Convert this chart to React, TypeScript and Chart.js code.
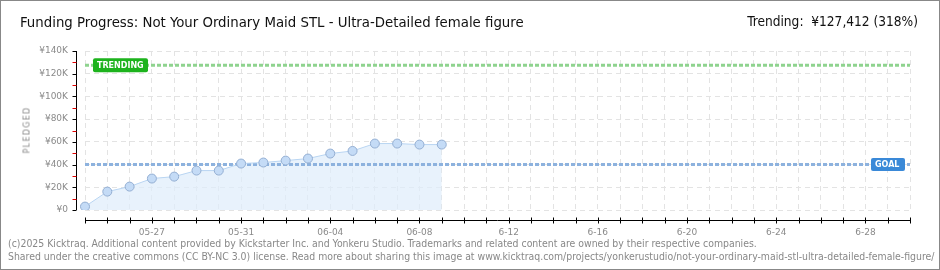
import React, { useEffect, useRef } from "react";
import { Chart, registerables } from "chart.js";

Chart.register(...registerables);

const TITLE = "Funding Progress: Not Your Ordinary Maid STL - Ultra-Detailed female figure";
const TRENDING_TEXT = "Trending:  ¥127,412 (318%)";
const FOOTER_1 = "(c)2025 Kicktraq. Additional content provided by Kickstarter Inc. and Yonkeru Studio. Trademarks and related content are owned by their respective companies.";
const FOOTER_2 = "Shared under the creative commons (CC BY-NC 3.0) license. Read more about sharing this image at www.kicktraq.com/projects/yonkerustudio/not-your-ordinary-maid-stl-ultra-detailed-female-figure/";

const DATES = [
  "05-24", "05-25", "05-26", "05-27", "05-28", "05-29", "05-30", "05-31",
  "06-01", "06-02", "06-03", "06-04", "06-05", "06-06", "06-07", "06-08",
  "06-09", "06-10", "06-11", "06-12", "06-13", "06-14", "06-15", "06-16",
  "06-17", "06-18", "06-19", "06-20", "06-21", "06-22", "06-23", "06-24",
  "06-25", "06-26", "06-27", "06-28", "06-29", "06-30",
];
const X_TICK_LABELS = ["05-27", "05-31", "06-04", "06-08", "6-12", "6-16", "6-20", "6-24", "6-28"];
const PLEDGED = [
  3000, 16200, 20600, 27700, 29400, 34700, 34700, 40900, 41800, 43500,
  45300, 49700, 52000, 58500, 58500, 57600, 57600,
];
const GOAL = 40000;
const TRENDING = 127412;
const Y_MAX = 140000;
const Y_STEP = 20000;

const NARROW = "'Liberation Sans Narrow', 'DejaVu Sans Condensed', sans-serif";

const axesPlugin = {
  id: "kickAxes",
  afterDraw(chart: any) {
    const { ctx, chartArea } = chart;
    const xs = chart.scales.x;
    const ys = chart.scales.y;
    ctx.save();
    // y axis
    const ax = Math.round(chartArea.left - 9) + 0.5;
    ctx.strokeStyle = "#000";
    ctx.lineWidth = 1;
    ctx.beginPath();
    ctx.moveTo(ax, ys.getPixelForValue(Y_MAX));
    ctx.lineTo(ax, ys.getPixelForValue(0));
    ctx.stroke();
    for (let v = 0; v <= Y_MAX; v += Y_STEP / 2) {
      const y = Math.round(ys.getPixelForValue(v)) + 0.5;
      ctx.strokeStyle = v % Y_STEP === 0 ? "#000" : "#e00000";
      ctx.beginPath();
      ctx.moveTo(ax - 4, y);
      ctx.lineTo(ax, y);
      ctx.stroke();
    }
    // x axis
    const ay = Math.round(chartArea.bottom + 10) + 0.5;
    ctx.strokeStyle = "#000";
    ctx.beginPath();
    ctx.moveTo(xs.getPixelForValue(0), ay);
    ctx.lineTo(xs.getPixelForValue(DATES.length - 1), ay);
    ctx.stroke();
    for (let i = 0; i < DATES.length; i++) {
      const x = Math.round(xs.getPixelForValue(i)) + 0.5;
      ctx.beginPath();
      ctx.moveTo(x, ay - 3);
      ctx.lineTo(x, ay + 3);
      ctx.stroke();
    }
    // label boxes
    const drawBox = (text: string, x: number, yc: number, w: number, h: number, color: string) => {
      ctx.fillStyle = color;
      ctx.beginPath();
      const r = 2;
      ctx.moveTo(x + r, yc - h / 2);
      ctx.lineTo(x + w - r, yc - h / 2);
      ctx.quadraticCurveTo(x + w, yc - h / 2, x + w, yc - h / 2 + r);
      ctx.lineTo(x + w, yc + h / 2 - r);
      ctx.quadraticCurveTo(x + w, yc + h / 2, x + w - r, yc + h / 2);
      ctx.lineTo(x + r, yc + h / 2);
      ctx.quadraticCurveTo(x, yc + h / 2, x, yc + h / 2 - r);
      ctx.lineTo(x, yc - h / 2 + r);
      ctx.quadraticCurveTo(x, yc - h / 2, x + r, yc - h / 2);
      ctx.fill();
      ctx.fillStyle = "#fff";
      ctx.font = "bold 8px 'DejaVu Sans'";
      ctx.textBaseline = "middle";
      ctx.textAlign = "left";
      ctx.fillText(text, x + 4, yc + 0.5);
    };
    const ty = ys.getPixelForValue(TRENDING);
    drawBox("TRENDING", chartArea.left + 8, ty, 55, 14, "#1db31d");
    const gy = ys.getPixelForValue(GOAL);
    drawBox("GOAL", chartArea.right - 39, gy, 34, 13, "#3a89d8");
    ctx.restore();
  },
};

export default function App() {
  const ref = useRef<HTMLCanvasElement>(null);
  useEffect(() => {
    document.body.style.margin = "0";
    const canvas = ref.current!;
    const chart = new Chart(canvas, {
      type: "line",
      data: {
        labels: DATES,
        datasets: [
          {
            data: PLEDGED,
            borderColor: "#b9d5f2",
            borderWidth: 1,
            backgroundColor: "rgba(222,236,251,0.7)",
            fill: "origin",
            tension: 0,
            pointRadius: 4.5,
            pointBackgroundColor: "#c4dbf6",
            pointBorderColor: "#93aed2",
            pointBorderWidth: 1,
          },
          {
            data: DATES.map(() => GOAL),
            borderColor: "#8db2de",
            borderWidth: 3,
            borderDash: [4, 2],
            pointRadius: 0,
            fill: false,
          },
          {
            data: DATES.map(() => TRENDING),
            borderColor: "#8fd38f",
            borderWidth: 3,
            borderDash: [4, 2],
            pointRadius: 0,
            fill: false,
          },
        ],
      },
      options: {
        animation: false,
        responsive: false,
        devicePixelRatio: 1,
        layout: { padding: { left: 0, right: 30, top: 51, bottom: 30 } },
        plugins: {
          legend: { display: false },
          tooltip: { enabled: false },
          filler: { drawTime: "beforeDatasetsDraw" },
        } as any,
        scales: {
          x: {
            type: "category",
            offset: false,
            grid: { color: "#e3e3e3", lineWidth: 1, drawTicks: false },
            border: { display: false, dash: [5, 4] },
            ticks: {
              autoSkip: false,
              maxRotation: 0,
              padding: 17,
              color: "#8a8a8a",
              font: { family: "DejaVu Sans", size: 9 },
              callback: (_v: any, i: number) => ((i - 3) % 4 === 0 && i >= 3 ? X_TICK_LABELS[(i - 3) / 4] : ""),
            },
            afterFit: (s: any) => {
              s.height = 30;
            },
          },
          y: {
            min: 0,
            max: Y_MAX,
            grid: { color: "#e3e3e3", lineWidth: 1, drawTicks: false },
            border: { display: false, dash: [5, 4] },
            ticks: {
              stepSize: Y_STEP,
              padding: 17,
              color: "#8a8a8a",
              font: { family: "DejaVu Sans", size: 9 },
              callback: (v: any) => (v === 0 ? "¥0" : "¥" + v / 1000 + "K"),
            },
            afterFit: (s: any) => {
              s.width = 85;
            },
          },
        },
      },
      plugins: [axesPlugin],
    });
    return () => chart.destroy();
  }, []);

  return (
    <div
      style={{
        position: "relative",
        width: 940,
        height: 270,
        boxSizing: "border-box",
        border: "1px solid #888",
        background: "#fff",
        overflow: "hidden",
        fontFamily: NARROW,
      }}
    >
      <canvas ref={ref} width={940} height={270} style={{ position: "absolute", left: -1, top: -1 }} />
      <div style={{ position: "absolute", left: 19, top: 12, fontSize: 14.8, color: "#111", whiteSpace: "nowrap" }}>{TITLE}</div>
      <div style={{ position: "absolute", right: 21, top: 12, fontSize: 13.6, color: "#111", whiteSpace: "pre" }}>{TRENDING_TEXT}</div>
      <div
        style={{
          position: "absolute",
          left: 26,
          top: 129,
          transform: "translate(-50%, -50%) rotate(-90deg)",
          fontSize: 8,
          letterSpacing: 1.3,
          color: "#888",
          fontFamily: "'DejaVu Sans'",
        }}
      >
        PLEDGED
      </div>
      <div style={{ position: "absolute", left: 7, top: 236, fontSize: 10.4, color: "#888", whiteSpace: "nowrap", lineHeight: "13px" }}>
        {FOOTER_1}
        <br />
        {FOOTER_2}
      </div>
    </div>
  );
}
